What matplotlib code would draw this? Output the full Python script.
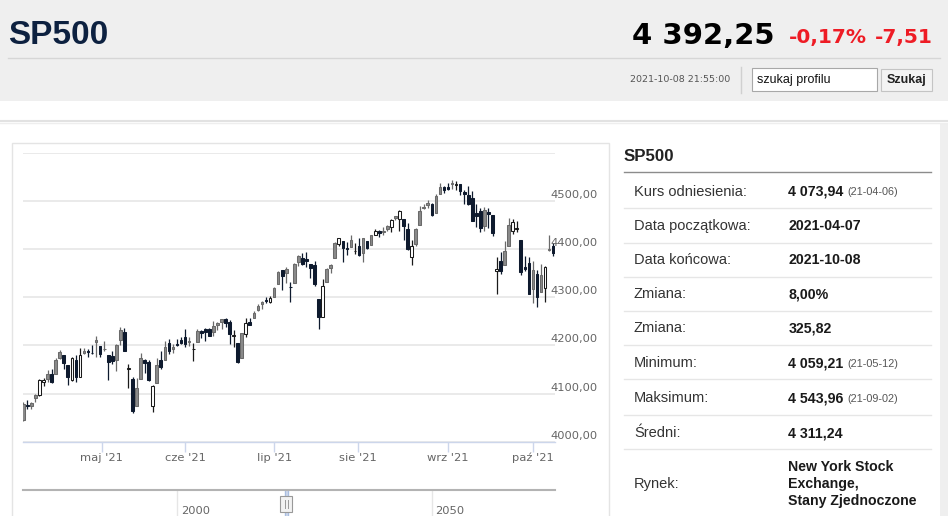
import matplotlib.pyplot as plt
import numpy as np
import pandas as pd
from matplotlib.patches import Rectangle

plt.switch_backend('agg')

# ---- dane ----
dates = pd.bdate_range('2021-04-05', '2021-10-08', freq='C',
                       holidays=['2021-05-31', '2021-07-05', '2021-09-06'])

opens = [
    4045.00, 4075.57, 4074.29, 4089.95, 4096.11, 4124.71, 4130.10, 4141.58, 4139.76, 4174.14,
    4179.80, 4159.18, 4128.42, 4170.46, 4134.50, 4185.03, 4188.25, 4185.14, 4206.14, 4198.10,
    4191.98, 4179.04, 4177.06, 4169.14, 4210.34, 4228.29, 4150.34, 4130.55, 4074.99, 4129.58,
    4169.92, 4165.94, 4074.00, 4121.97, 4168.61, 4170.16, 4205.94, 4191.59, 4201.94, 4210.77,
    4216.52, 4206.82, 4191.43, 4206.05, 4229.34, 4233.81, 4232.99, 4228.56, 4242.90, 4248.31,
    4255.28, 4248.87, 4220.37, 4204.78, 4173.40, 4224.61, 4249.27, 4256.97, 4274.45, 4284.90,
    4293.21, 4290.65,
    4300.73, 4326.60, 4356.46, 4351.01, 4321.07, 4329.38, 4372.41, 4381.07, 4380.11, 4369.02,
    4367.43, 4296.40, 4258.00, 4331.13, 4361.27, 4381.20, 4409.58, 4416.38, 4402.95, 4403.59,
    4395.12,
    4406.86, 4392.74, 4415.95, 4408.86, 4429.07, 4437.77, 4435.79, 4442.18, 4446.08, 4464.84,
    4461.65, 4462.12, 4440.94, 4382.44, 4410.56, 4450.29, 4484.40, 4490.45, 4493.75, 4474.10,
    4513.76, 4529.75,
    4528.80, 4534.48, 4532.42, 4535.38, 4518.09, 4513.02, 4506.92, 4474.81, 4479.33, 4447.49,
    4477.09, 4469.74, 4354.50, 4374.45, 4367.43, 4406.75, 4438.04, 4442.12, 4419.54, 4362.41,
    4370.67,
    4317.16, 4348.84, 4309.87, 4319.57, 4397.00, 4406.51,
]
highs = [
    4083.42, 4086.23, 4083.13, 4098.19, 4129.48, 4131.76, 4148.00, 4151.69, 4173.49, 4191.31,
    4180.81, 4159.18, 4175.02, 4179.57, 4194.17, 4194.19, 4193.35, 4201.53, 4218.78, 4198.10,
    4209.39, 4179.04, 4187.72, 4202.70, 4238.04, 4236.39, 4162.04, 4134.73, 4131.58, 4183.13,
    4171.92, 4169.15, 4116.93, 4172.80, 4188.72, 4209.52, 4213.42, 4202.61, 4213.38, 4218.36,
    4234.12, 4217.37, 4204.39, 4233.45, 4232.34, 4236.74, 4237.09, 4249.74, 4248.38, 4255.59,
    4257.16, 4251.89, 4232.29, 4204.78, 4226.24, 4255.84, 4256.60, 4271.28, 4286.12, 4292.14,
    4300.52, 4302.43,
    4320.66, 4355.43, 4356.46, 4361.88, 4330.88, 4371.60, 4386.68, 4392.37, 4393.68, 4369.02,
    4375.09, 4296.40, 4336.84, 4359.70, 4369.87, 4415.18, 4422.73, 4416.38, 4415.47, 4429.97,
    4412.25,
    4422.18, 4423.79, 4416.17, 4429.76, 4440.82, 4439.39, 4445.21, 4449.44, 4461.77, 4468.37,
    4480.26, 4462.12, 4454.32, 4418.61, 4444.35, 4489.88, 4492.81, 4501.71, 4495.90, 4513.33,
    4537.36, 4531.39,
    4537.11, 4543.96, 4541.45, 4535.38, 4521.79, 4529.90, 4520.47, 4492.99, 4485.68, 4486.87,
    4485.87, 4471.52, 4383.00, 4394.87, 4416.75, 4465.40, 4463.12, 4457.30, 4419.54, 4385.57,
    4382.55,
    4375.19, 4355.51, 4369.23, 4365.57, 4429.97, 4412.02,
]
lows = [
    4043.00, 4068.14, 4068.31, 4082.54, 4095.51, 4114.82, 4124.43, 4120.87, 4139.76, 4170.75,
    4150.47, 4118.38, 4126.35, 4123.69, 4134.50, 4182.36, 4176.22, 4181.78, 4176.81, 4174.85,
    4188.03, 4128.59, 4160.94, 4147.33, 4201.64, 4188.13, 4111.53, 4059.21, 4074.99, 4129.58,
    4142.69, 4125.99, 4061.41, 4121.97, 4151.72, 4170.16, 4182.52, 4184.11, 4197.78, 4203.57,
    4197.59, 4198.27, 4167.93, 4206.05, 4215.66, 4208.41, 4218.74, 4220.34, 4232.25, 4234.07,
    4238.35, 4202.45, 4196.05, 4164.40, 4173.40, 4217.27, 4241.43, 4256.97, 4271.16, 4274.67,
    4287.04, 4287.96,
    4300.73, 4326.60, 4314.37, 4329.79, 4289.37, 4329.38, 4364.03, 4366.92, 4362.36, 4340.70,
    4322.53, 4233.13, 4258.00, 4331.13, 4350.06, 4381.20, 4405.45, 4372.51, 4387.01, 4403.59,
    4389.65,
    4384.81, 4373.00, 4400.23, 4408.86, 4429.07, 4424.74, 4430.03, 4436.42, 4435.96, 4460.82,
    4437.66, 4417.83, 4397.59, 4367.73, 4406.80, 4450.29, 4482.28, 4485.66, 4468.99, 4474.10,
    4513.76, 4515.80,
    4522.02, 4524.66, 4521.65, 4513.00, 4493.95, 4492.07, 4457.66, 4445.70, 4435.46, 4438.37,
    4443.80, 4427.76, 4306.00, 4347.96, 4367.43, 4406.75, 4430.27, 4436.19, 4346.33, 4355.08,
    4306.24,
    4288.52, 4278.94, 4309.87, 4290.49, 4395.00, 4386.22,
]
closes = [
    4077.91, 4073.94, 4079.95, 4097.17, 4128.80, 4127.99, 4141.59, 4124.66, 4170.42, 4185.47,
    4163.26, 4134.94, 4173.42, 4134.98, 4180.17, 4187.62, 4186.72, 4183.18, 4211.47, 4181.17,
    4192.66, 4164.66, 4167.59, 4201.62, 4232.60, 4188.43, 4152.10, 4063.04, 4112.50, 4173.85,
    4163.29, 4127.83, 4115.68, 4159.12, 4155.86, 4197.05, 4188.13, 4195.99, 4200.88, 4204.11,
    4202.04, 4208.12, 4192.85, 4229.89, 4226.52, 4227.26, 4219.55, 4239.18, 4247.44, 4255.15,
    4246.59, 4223.70, 4221.86, 4166.45, 4224.79, 4246.44, 4241.84, 4266.49, 4280.70, 4290.61,
    4291.80, 4297.50,
    4319.94, 4352.34, 4343.54, 4358.13, 4320.82, 4369.55, 4384.63, 4369.21, 4374.30, 4360.03,
    4327.16, 4258.49, 4323.06, 4358.69, 4367.48, 4411.79, 4422.30, 4401.46, 4400.64, 4419.15,
    4395.26,
    4387.16, 4423.15, 4402.66, 4429.10, 4436.52, 4432.35, 4436.75, 4447.70, 4460.83, 4468.00,
    4479.71, 4448.08, 4400.27, 4405.80, 4441.67, 4479.53, 4486.23, 4496.19, 4470.00, 4509.37,
    4528.79, 4522.68,
    4524.09, 4536.95, 4535.43, 4520.03, 4514.07, 4493.28, 4458.58, 4468.73, 4443.05, 4480.70,
    4473.75, 4432.99, 4357.73, 4354.19, 4395.64, 4448.98, 4455.48, 4443.11, 4352.63, 4359.46,
    4307.54,
    4357.04, 4300.46, 4345.72, 4363.55, 4399.76, 4391.34,
]
prev_close = 4019.87

month_starts = ['2021-05-01', '2021-06-01', '2021-07-01', '2021-08-01', '2021-09-01', '2021-10-01']
month_labels = ["maj '21", "cze '21", "lip '21", "sie '21", "wrz '21", "paź '21"]
y_ticks = [4000, 4100, 4200, 4300, 4400, 4500, 4600]

nav_ticks = [2000, 2050]
nav_start, nav_end = '2021-04-05', '2021-10-08'

name = 'SP500'
last_price = '4 392,25'
change_pct = '-0,17%'
change_abs = '-7,51'
timestamp = '2021-10-08 21:55:00'

info_labels = ['Kurs odniesienia:', 'Data początkowa:', 'Data końcowa:', 'Zmiana:', 'Zmiana:',
               'Minimum:', 'Maksimum:', 'Średni:', 'Rynek:']
info_values = ['4 073,94', '2021-04-07', '2021-10-08', '8,00%', '325,82',
               '4 059,21', '4 543,96', '4 311,24', 'New York Stock\nExchange,\nStany Zjednoczone']
info_dates = ['(21-04-06)', '', '', '', '', '(21-05-12)', '(21-09-02)', '', '']

# ---- rysunek ----
W, H = 948, 516
SANS = ['Liberation Sans', 'DejaVu Sans']
DV = ['DejaVu Sans']


def px_rect(x0, y0, x1, y1):
    return [x0 / W, 1 - y1 / H, (x1 - x0) / W, (y1 - y0) / H]


fig = plt.figure(figsize=(W / 100, H / 100), dpi=100)
bg = fig.add_axes([0, 0, 1, 1])
bg.set_xlim(0, W)
bg.set_ylim(H, 0)
bg.axis('off')

# naglowek
bg.add_patch(Rectangle((0, 0), W, 100.7, color='#efefef', lw=0))
bg.plot([8, 940], [58.3, 58.3], color='#d6d6d6', lw=1)
bg.text(8, 43.5, name, fontsize=24, weight='bold', color='#0d2140', family=SANS, va='baseline')
bg.text(632, 43.5, last_price, fontsize=21, weight='bold', color='#000000', family=DV, va='baseline')
bg.text(789, 43.5, change_pct, fontsize=14.5, weight='bold', color='#ee1c25', family=DV, va='baseline')
bg.text(933, 43.5, change_abs, fontsize=14.5, weight='bold', color='#ee1c25', family=DV, va='baseline',
        ha='right')
bg.text(730, 80, timestamp, fontsize=6.8, color='#555555', family=DV, va='center', ha='right')
bg.plot([741, 741], [67, 93], color='#d0d0d0', lw=1)
bg.add_patch(Rectangle((752, 68), 125, 23, facecolor='white', edgecolor='#a8a8a8', lw=0.8))
bg.text(757, 80, 'szukaj profilu', fontsize=9, color='#111111', family=SANS, va='center')
bg.add_patch(Rectangle((881, 69), 51, 22, facecolor='#f3f3f3', edgecolor='#c4c4c4', lw=0.8))
bg.text(906.5, 80.5, 'Szukaj', fontsize=9, weight='bold', color='#222222', family=SANS,
        va='center', ha='center')

bg.plot([0, W], [120.8, 120.8], color='#e2e2e2', lw=1.5)
bg.plot([0, W], [122.5, 122.5], color='#eeeeee', lw=1)
bg.add_patch(Rectangle((940, 123.5), 8, 400, color='#efefef', lw=0))
bg.add_patch(Rectangle((12.3, 143.3), 596.7, 400, facecolor='white', edgecolor='#e4e4e4', lw=1))

# tabela
bg.text(624, 156.7, name, fontsize=12.2, weight='bold', color='#222222', family=SANS, va='center')
bg.plot([624, 930.7], [172.3, 172.3], color='#8c8c8c', lw=1)
row_y = [191.7, 226, 260, 294.3, 328.3, 363.3, 398.3, 433.3, 484]
sep_y = [208.3, 242.7, 276.7, 310.7, 345, 379.3, 415, 449.3]
for yy in sep_y:
    bg.plot([624, 930.7], [yy, yy], color='#e6e6e6', lw=1)
for yy, lab, val, dt in zip(row_y, info_labels, info_values, info_dates):
    bg.text(634, yy, lab, fontsize=10.5, color='#333333', family=SANS, va='center')
    bg.text(788.3, yy, val, fontsize=10.2, weight='bold', color='#1a1a1a', family=SANS,
            va='center', linespacing=1.25)
    if dt:
        bg.text(847, yy + 0.5, dt, fontsize=7.8, color='#555555', family=SANS, va='center')

# wykres swiecowy
ax = fig.add_axes(px_rect(22.5, 152.7, 555, 441.7))
ax.patch.set_visible(False)
x = np.arange(len(dates))
o = np.array(opens)
h = np.array(highs)
l = np.array(lows)
c = np.array(closes)
pc = np.concatenate([[prev_close], c[:-1]])

fills, edges = [], []
for oi, ci, pi in zip(o, c, pc):
    if ci < oi:
        fills.append('#0e1a2e')
        edges.append('#0e1a2e')
    elif oi > pi:
        fills.append('#8a8a8a')
        edges.append('#6a6a6a')
    else:
        fills.append('#ffffff')
        edges.append('#1a1a1a')

ax.vlines(x, l, h, colors=edges, lw=0.9, zorder=2)
ax.bar(x, np.maximum(np.abs(c - o), 1.0), bottom=np.minimum(o, c), width=0.66,
       color=fills, edgecolor=edges, lw=0.75, zorder=3)

ax.set_xlim(-0.2, 131.45)
ax.set_ylim(4000, 4600)
ax.set_yticks(y_ticks)
ax.yaxis.grid(True, color='#e6e6e6', lw=1.2, zorder=0)
ax.tick_params(axis='y', left=False, labelleft=False)
for v in y_ticks[:-1]:
    ax.text(0.9906, v + 12.5, f'{v},00', transform=ax.get_yaxis_transform(), fontsize=8.25,
            color='#666666', family=DV, va='center', ha='left', clip_on=False)

date_num = dates.values.astype('datetime64[D]').astype(float)
ms_num = pd.to_datetime(month_starts).values.astype('datetime64[D]').astype(float)
tick_pos = np.interp(ms_num, date_num, x)
ax.set_xticks(tick_pos)
ax.set_xticklabels(month_labels, fontsize=8.25, color='#666666', family=DV)
ax.tick_params(axis='x', length=7, width=1, color='#ccd6eb', pad=1)
for s in ['top', 'right', 'left']:
    ax.spines[s].set_visible(False)
ax.spines['bottom'].set_color('#ccd6eb')
ax.spines['bottom'].set_linewidth(1)

# nawigator
nav = fig.add_axes(px_rect(22.5, 490, 555, 516))
nav.patch.set_visible(False)
nav.set_xlim(1969.74, 2074.23)
nav.set_ylim(0, 1)
for s in ['bottom', 'right', 'left']:
    nav.spines[s].set_visible(False)
nav.spines['top'].set_color('#b3b3b3')
nav.spines['top'].set_linewidth(1.5)
nav.set_xticks([])
nav.set_yticks([])
for t in nav_ticks:
    nav.axvline(t, color='#e6e6e6', lw=1)
    nav.text(t + 0.8, 0.19, str(t), fontsize=8.25, color='#666666', family=DV, va='center')


def year_frac(d):
    d = pd.Timestamp(d)
    return d.year + (d.dayofyear - 1) / 365.0


y0, y1 = year_frac(nav_start), year_frac(nav_end)
nav.axvspan(y0, y1, color='#6685c2', alpha=0.3, lw=0)
nav.axvline(y0, color='#a9bde0', lw=1)
nav.axvline(y1, color='#a9bde0', lw=1)
hx = (y0 + y1) / 2
nav.add_patch(Rectangle((hx - 1.15, 0.154), 2.3, 0.615, transform=nav.get_xaxis_transform(),
                        facecolor='#f2f2f2', edgecolor='#999999', lw=0.8, zorder=4))
for dx in (-0.3, 0.3):
    nav.plot([hx + dx, hx + dx], [0.3, 0.62], transform=nav.get_xaxis_transform(),
             color='#999999', lw=0.7, zorder=5)

fig.savefig('out.png', dpi=100)
